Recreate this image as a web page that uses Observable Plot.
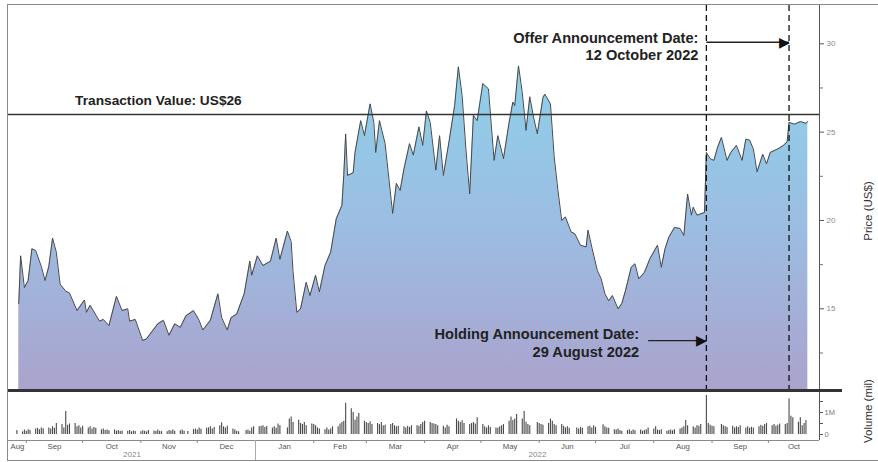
<!DOCTYPE html>
<html><head><meta charset="utf-8">
<script src="https://cdn.jsdelivr.net/npm/d3@7"></script>
<script src="https://cdn.jsdelivr.net/npm/@observablehq/plot@0.6"></script>
<style>
body{margin:0;background:#fff;font-family:"Liberation Sans",Arial,sans-serif}
#wrap{position:relative;width:878px;height:462px;overflow:hidden;background:#fff}
#price,#vol{position:absolute;left:0}
#price{top:0}
#vol{top:390px}
.frame{position:absolute;left:7px;top:4px;width:900px;height:457px;border:1.5px solid #8a8a8a;box-sizing:border-box;pointer-events:none}
.sep{position:absolute;left:8px;top:388.5px;width:834px;height:3px;background:#333}
.ytitle{position:absolute;transform:translate(-50%,-50%) rotate(-90deg);white-space:nowrap;color:#333;font-size:11.5px}
</style>
</head><body>
<div id="wrap">
  <div id="price"></div>
  <div id="vol"></div>
  <div class="sep"></div>
  <div class="frame"></div>
  <div class="ytitle" style="left:868px;top:211px">Price (US$)</div>
  <div class="ytitle" style="left:868px;top:411px">Volume (mil)</div>
</div>
<script>
// ---------- data ----------
const priceSeries = [
["2021-08-28",15.3],["2021-08-29",18.0],["2021-08-31",16.2],["2021-09-02",16.6],["2021-09-04",18.4],["2021-09-06",18.3],["2021-09-09",17.4],["2021-09-11",16.6],["2021-09-13",17.4],["2021-09-15",19.0],["2021-09-17",18.2],["2021-09-19",16.4],["2021-09-22",16.0],["2021-09-24",15.9],["2021-09-28",14.9],["2021-10-02",15.5],["2021-10-03",14.8],["2021-10-05",15.2],["2021-10-10",14.3],["2021-10-12",14.4],["2021-10-15",14.05],["2021-10-19",15.7],["2021-10-22",14.9],["2021-10-25",15.0],["2021-10-26",14.3],["2021-10-29",14.4],["2021-11-02",13.2],["2021-11-04",13.3],["2021-11-10",14.15],["2021-11-13",14.35],["2021-11-16",13.5],["2021-11-19",14.15],["2021-11-22",13.95],["2021-11-25",14.6],["2021-11-29",14.9],["2021-12-02",14.35],["2021-12-04",13.8],["2021-12-08",14.35],["2021-12-12",15.85],["2021-12-14",14.5],["2021-12-17",13.8],["2021-12-19",14.5],["2021-12-22",14.7],["2021-12-26",15.85],["2021-12-29",17.7],["2021-12-30",16.9],
["2022-01-02",18.0],["2022-01-05",17.45],["2022-01-09",17.7],["2022-01-12",19.0],["2022-01-14",17.8],["2022-01-18",19.4],["2022-01-20",18.8],["2022-01-21",17.1],["2022-01-23",14.8],["2022-01-25",15.0],["2022-01-28",16.5],["2022-01-30",15.75],["2022-02-02",16.9],["2022-02-04",15.95],["2022-02-07",17.45],["2022-02-10",18.2],["2022-02-13",20.1],["2022-02-16",20.85],["2022-02-17",22.55],["2022-02-18",24.9],["2022-02-19",22.55],["2022-02-22",22.7],["2022-02-23",23.85],["2022-02-26",25.65],["2022-02-28",24.8],["2022-03-03",26.6],["2022-03-05",25.55],["2022-03-06",23.85],["2022-03-08",25.65],["2022-03-11",24.35],["2022-03-15",20.4],["2022-03-17",22.1],["2022-03-19",21.7],["2022-03-21",22.9],["2022-03-24",24.35],["2022-03-26",23.7],["2022-03-29",25.3],["2022-03-31",24.25],["2022-04-02",26.2],["2022-04-04",25.55],["2022-04-07",22.85],["2022-04-09",24.8],["2022-04-11",22.55],["2022-04-14",24.45],["2022-04-17",26.5],["2022-04-19",28.7],["2022-04-21",27.05],["2022-04-23",24.05],["2022-04-25",21.5],["2022-04-27",25.95],["2022-04-29",25.65],["2022-05-02",27.75],["2022-05-05",27.45],["2022-05-08",23.4],["2022-05-10",24.8],["2022-05-13",23.5],["2022-05-16",25.55],["2022-05-18",26.7],["2022-05-19",26.5],["2022-05-21",28.75],["2022-05-23",27.25],["2022-05-25",25.1],["2022-05-27",27.0],["2022-05-29",25.85],["2022-05-31",24.9],["2022-06-03",26.95],["2022-06-04",27.15],["2022-06-07",26.6],["2022-06-09",23.6],["2022-06-11",21.7],["2022-06-13",20.0],["2022-06-15",20.2],["2022-06-18",19.35],["2022-06-20",19.25],["2022-06-23",18.6],["2022-06-26",18.5],["2022-06-27",19.45],["2022-06-29",18.5],["2022-07-02",17.15],["2022-07-04",16.7],["2022-07-06",15.85],["2022-07-08",15.45],["2022-07-10",15.75],["2022-07-13",15.0],["2022-07-15",15.3],["2022-07-17",16.05],["2022-07-20",17.35],["2022-07-22",17.55],["2022-07-24",16.7],["2022-07-27",17.05],["2022-07-30",17.85],["2022-08-03",18.6],["2022-08-05",17.35],["2022-08-07",18.4],["2022-08-09",19.05],["2022-08-12",19.6],["2022-08-15",19.55],["2022-08-17",19.15],["2022-08-19",21.5],["2022-08-21",20.3],["2022-08-22",20.75],["2022-08-24",20.3],["2022-08-28",20.45],["2022-08-29",23.85],["2022-08-31",23.5],["2022-09-02",23.4],["2022-09-04",24.15],["2022-09-06",24.7],["2022-09-09",23.4],["2022-09-11",23.85],["2022-09-14",24.25],["2022-09-17",23.4],["2022-09-19",24.6],["2022-09-21",24.55],["2022-09-23",24.05],["2022-09-25",22.75],["2022-09-28",23.75],["2022-09-30",23.2],["2022-10-02",23.85],["2022-10-06",24.05],["2022-10-09",24.25],["2022-10-11",24.45],["2022-10-12",25.55],["2022-10-15",25.45],["2022-10-18",25.6],["2022-10-21",25.5],["2022-10-22",25.6]
];

// daily volume (millions), Mon..Fri of each week
const volumeWeeks = [
["2021-08-23",[null,null,null,null,0.18]],
["2021-08-30",[0.12,0.2,0.15,0.22,0.18]],
["2021-09-06",[0.25,0.28,0.22,0.3,0.26]],
["2021-09-13",[0.3,0.25,0.35,0.28,0.5]],
["2021-09-20",[0.45,0.3,1.05,0.42,0.48]],
["2021-09-27",[0.5,0.35,0.4,0.3,0.38]],
["2021-10-04",[0.3,0.35,0.25,0.32,0.28]],
["2021-10-11",[0.22,0.25,0.18,0.2,0.17]],
["2021-10-18",[0.2,0.15,0.18,0.14,0.16]],
["2021-10-25",[0.15,0.18,0.12,0.16,0.14]],
["2021-11-01",[0.13,0.17,0.15,0.12,0.18]],
["2021-11-08",[0.16,0.14,0.2,0.15,0.13]],
["2021-11-15",[0.12,0.18,0.16,0.2,0.15]],
["2021-11-22",[0.17,0.2,0.15,null,0.14]],
["2021-11-29",[0.22,0.25,0.2,0.3,0.24]],
["2021-12-06",[0.28,0.3,0.35,0.25,0.32]],
["2021-12-13",[0.4,0.53,0.35,0.3,0.38]],
["2021-12-20",[0.25,0.2,0.15,0.12,null]],
["2021-12-27",[0.18,0.2,0.15,0.3,0.35]],
["2022-01-03",[0.35,0.38,0.4,0.32,0.36]],
["2022-01-10",[0.3,0.35,0.28,0.48,0.4]],
["2022-01-17",[null,0.3,0.71,0.79,0.55]],
["2022-01-24",[0.65,0.5,0.45,0.55,0.4]],
["2022-01-31",[0.48,0.45,0.4,0.3,0.25]],
["2022-02-07",[0.22,0.3,0.2,0.25,0.35]],
["2022-02-14",[0.35,0.48,0.55,0.6,1.42]],
["2022-02-21",[1.17,1.0,0.65,0.8,0.95]],
["2022-02-28",[0.6,0.55,0.5,0.58,0.45]],
["2022-03-07",[0.5,0.45,0.55,0.4,0.42]],
["2022-03-14",[0.45,0.5,0.4,0.35,0.38]],
["2022-03-21",[0.35,0.3,0.38,0.32,0.4]],
["2022-03-28",[0.4,0.38,0.45,0.55,0.6]],
["2022-04-04",[0.55,0.5,0.48,0.45,0.4]],
["2022-04-11",[0.38,0.3,0.42,0.35,null]],
["2022-04-18",[0.71,0.6,0.55,0.62,0.5]],
["2022-04-25",[0.45,0.5,0.55,0.48,0.76]],
["2022-05-02",[0.45,0.35,0.3,0.4,0.32]],
["2022-05-09",[0.3,0.28,0.35,0.4,0.45]],
["2022-05-16",[0.6,0.79,0.64,0.7,0.91]],
["2022-05-23",[0.71,1.05,0.56,0.45,0.4]],
["2022-05-30",[null,0.55,0.5,0.45,0.42]],
["2022-06-06",[0.5,0.71,0.6,0.45,0.4]],
["2022-06-13",[0.45,0.38,0.3,0.35,0.28]],
["2022-06-20",[null,0.3,0.25,0.32,0.28]],
["2022-06-27",[0.35,0.38,0.3,0.4,0.33]],
["2022-07-04",[null,0.44,0.35,0.3,0.28]],
["2022-07-11",[0.22,0.2,0.25,0.18,0.15]],
["2022-07-18",[0.18,0.22,0.15,0.2,0.17]],
["2022-07-25",[0.2,0.15,0.18,0.22,0.3]],
["2022-08-01",[0.25,0.35,0.2,0.18,0.22]],
["2022-08-08",[0.15,0.18,0.2,0.17,0.22]],
["2022-08-15",[0.25,0.3,0.35,0.64,0.4]],
["2022-08-22",[0.35,0.3,0.4,0.38,0.45]],
["2022-08-29",[1.77,0.5,0.42,0.38,0.35]],
["2022-09-05",[null,0.45,0.4,0.35,0.32]],
["2022-09-12",[0.38,0.3,0.35,0.32,0.4]],
["2022-09-19",[0.3,0.35,0.28,0.33,0.3]],
["2022-09-26",[0.35,0.42,0.38,0.45,0.5]],
["2022-10-03",[0.4,0.45,0.38,0.42,0.48]],
["2022-10-10",[0.45,0.5,1.63,0.83,0.76]],
["2022-10-17",[0.56,0.76,0.4,0.5,0.64]]
];

const priceTicks = [15, 20, 25, 30];
const priceMinorTicks = [12.5, 17.5, 22.5, 27.5];
const volumeTicks = [0, 0.5, 1, 1.5];
const volumeTickLabels = ["0", "", "1M", ""];
const monthLabels = ["Aug","Sep","Oct","Nov","Dec","Jan","Feb","Mar","Apr","May","Jun","Jul","Aug","Sep","Oct"];
const yearLabels = ["2021", "2022"];
const transactionValue = 26;
const transactionLabel = "Transaction Value: US$26";
const holdingDate = "2022-08-29";
const offerDate = "2022-10-12";
const holdingLabel = "Holding Announcement Date:\n29 August 2022";
const offerLabel = "Offer Announcement Date:\n12 October 2022";

// ---------- scales / derived ----------
const xDomain = [new Date("2021-08-22T13:00Z"), new Date("2022-10-28T05:00Z")];
const priceDomain = [10.376, 32.168];
const volumeDomain = [-0.273, 1.909];
const FONT = "'Liberation Sans', Arial, Helvetica, sans-serif";

const priceData = priceSeries.map(([d, p]) => ({date: new Date(d), price: p}));
const volData = [];
for (const [wk, vals] of volumeWeeks) {
  const start = new Date(wk);
  vals.forEach((v, i) => { if (v != null) volData.push({date: d3.utcDay.offset(start, i), vol: v}); });
}
const monthStarts = d3.utcMonth.range(xDomain[0], xDomain[1]);
const monthSpans = d3.utcMonth.range(d3.utcMonth.floor(xDomain[0]), xDomain[1]);
const monthLabelData = monthSpans.map((m, i) => {
  const a = Math.max(+m, +xDomain[0]);
  const b = Math.min(+d3.utcMonth.offset(m, 1), +xDomain[1]);
  return {date: new Date((a + b) / 2), label: monthLabels[i]};
});
const yearStart = new Date("2022-01-01");
const yearLabelData = [
  {date: new Date((+xDomain[0] + +yearStart) / 2), label: yearLabels[0]},
  {date: new Date((+yearStart + +xDomain[1]) / 2), label: yearLabels[1]}
];
const hDate = new Date(holdingDate), oDate = new Date(offerDate);
const holdingArrowStart = new Date("2022-07-29");
const holdingArrowPrice = 13.2, offerArrowPrice = 30.09;

const gradient = () => {
  const defs = d3.create("svg:defs");
  const g = defs.append("linearGradient").attr("id", "priceGrad")
    .attr("gradientUnits", "userSpaceOnUse").attr("x1", 0).attr("x2", 0).attr("y1", 60).attr("y2", 390);
  g.append("stop").attr("offset", "0%").attr("stop-color", "#8dd1ea");
  g.append("stop").attr("offset", "50%").attr("stop-color", "#9cbde2");
  g.append("stop").attr("offset", "100%").attr("stop-color", "#aaa3cd");
  return defs.node();
};

const priceChart = Plot.plot({
  width: 878, height: 391,
  marginTop: 5, marginBottom: 1, marginLeft: 8, marginRight: 59,
  style: {fontFamily: FONT, fontSize: "8px", color: "#777", background: "transparent", overflow: "visible"},
  x: {type: "utc", domain: xDomain, axis: null},
  y: {domain: priceDomain},
  marks: [
    gradient,
    Plot.areaY(priceData, {x: "date", y1: priceDomain[0], y2: "price", fill: "url(#priceGrad)"}),
    Plot.lineY(priceData, {x: "date", y: "price", stroke: "#484848", strokeWidth: 1}),
    Plot.ruleY([transactionValue], {stroke: "#333", strokeWidth: 1.5}),
    Plot.ruleX([hDate, oDate], {stroke: "#111", strokeWidth: 1.3, strokeDasharray: "6,4"}),
    Plot.ruleX([xDomain[1]], {stroke: "#555", strokeWidth: 1}),
    Plot.axisY(priceTicks, {anchor: "right", tickSize: 4, tickPadding: 3, label: null, stroke: "#555", fill: "#8a8a8a", fontSize: 8}),
    Plot.axisY(priceMinorTicks, {anchor: "right", tickSize: 3, tickFormat: () => "", label: null, stroke: "#777"}),
    Plot.text([{date: new Date("2021-09-27"), price: 26.79}], {x: "date", y: "price", text: () => transactionLabel, textAnchor: "start", fontSize: 13.7, fontWeight: "bold", fill: "#222"}),
    Plot.text([{date: hDate, price: 29.875}], {x: "date", y: "price", text: () => offerLabel, textAnchor: "end", dx: -8, lineHeight: 1.18, fontSize: 14.6, fontWeight: "bold", fill: "#222"}),
    Plot.text([{date: holdingArrowStart, price: 13.09}], {x: "date", y: "price", text: () => holdingLabel, textAnchor: "end", dx: -9, lineHeight: 1.24, fontSize: 14.6, fontWeight: "bold", fill: "#222"}),
    Plot.link([{x1: hDate, x2: oDate, y: offerArrowPrice}, {x1: holdingArrowStart, x2: hDate, y: holdingArrowPrice}],
      {x1: "x1", x2: "x2", y1: "y", y2: "y", stroke: "#222", strokeWidth: 1.4}),
    Plot.text([{date: oDate, price: offerArrowPrice}, {date: hDate, price: holdingArrowPrice}],
      {x: "date", y: "price", text: () => "\u25B6", textAnchor: "end", dx: 1, fontSize: 14, fill: "#111"})
  ]
});
document.getElementById("price").appendChild(priceChart);

const volChart = Plot.plot({
  width: 878, height: 72,
  marginTop: 2, marginBottom: 22, marginLeft: 8, marginRight: 59,
  style: {fontFamily: FONT, fontSize: "7.5px", color: "#777", background: "transparent", overflow: "visible"},
  x: {type: "utc", domain: xDomain},
  y: {domain: volumeDomain},
  marks: [
    Plot.ruleX(volData, {x: "date", y1: 0, y2: "vol", stroke: "#4a4a4a", strokeWidth: 1.1}),
    Plot.ruleY([volumeDomain[0]], {stroke: "#8a8a8a"}),
    Plot.ruleX([xDomain[1]], {stroke: "#555"}),
    Plot.axisY(volumeTicks, {anchor: "right", tickSize: 3, tickPadding: 2, tickFormat: d => volumeTickLabels[volumeTicks.indexOf(d)], label: null, stroke: "#555", fill: "#777", fontSize: 7.5}),
    Plot.axisX(monthStarts, {anchor: "bottom", tickSize: 3, tickFormat: () => "", label: null, stroke: "#888"}),
    Plot.axisX([yearStart], {anchor: "bottom", tickSize: 21, tickFormat: () => "", label: null, stroke: "#aaa"}),
    Plot.text(monthLabelData, {x: "date", text: "label", frameAnchor: "bottom", dy: 8, fill: "#555", fontSize: 7.8}),
    Plot.text(yearLabelData, {x: "date", text: "label", frameAnchor: "bottom", dy: 16.5, fill: "#888", fontSize: 8})
  ]
});
document.getElementById("vol").appendChild(volChart);
</script>
</body></html>
